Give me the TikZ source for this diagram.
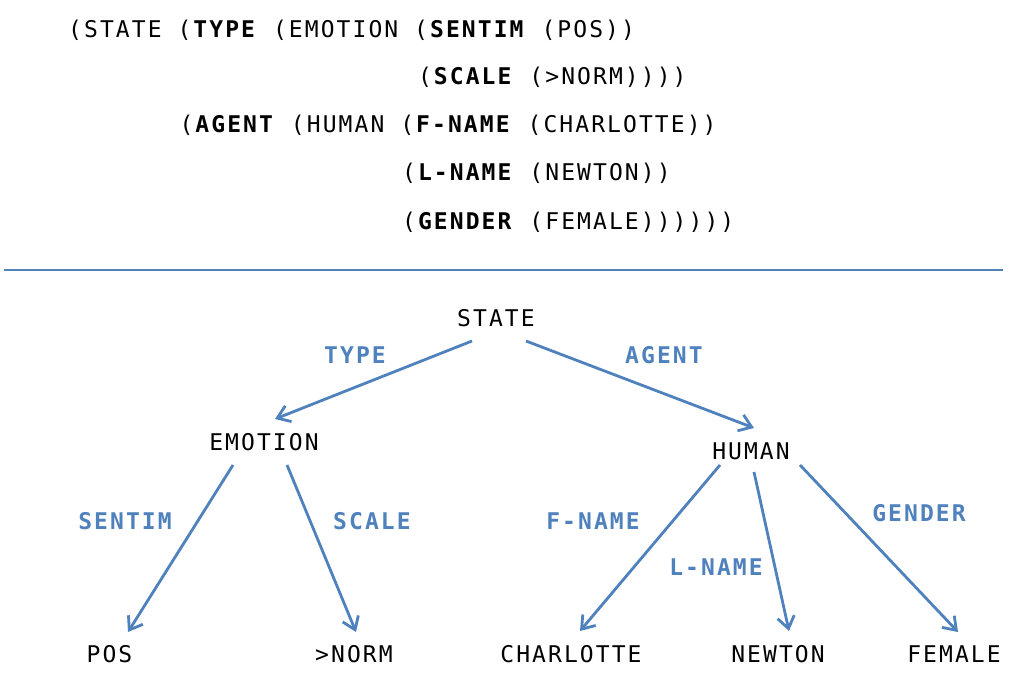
\documentclass[tikz,border=0pt]{standalone}
\usepackage{fontspec}
\setmainfont{DejaVu Sans}
\setmonofont{DejaVu Sans Mono}[LetterSpace=9]
\usetikzlibrary{arrows.meta}
\definecolor{edgecol}{RGB}{79,129,189}

\begin{document}
\begin{tikzpicture}[x=1bp,y=-1bp,>={Straight Barb[length=12bp,width=17bp]},
  code/.style={font=\fontsize{23bp}{27bp}\ttfamily,anchor=base west,inner sep=0pt},
  term/.style={font=\fontsize{23bp}{27bp}\ttfamily,inner sep=0pt},
  rel/.style={font=\fontsize{23bp}{27bp}\ttfamily\bfseries,text=edgecol,inner sep=0pt},
  link/.style={->,draw=edgecol,line width=2.8bp}]
  \useasboundingbox (0,0) rectangle (1013,697);
%%
  % Frame: nested list
  \node[code] (code1) at (68,38)    {(STATE (\textbf{TYPE} (EMOTION (\textbf{SENTIM} (POS))};
  \node[code] (code2) at (417.8,85) {(\textbf{SCALE} (>NORM))))};
  \node[code] (code3) at (179.3,133) {(\textbf{AGENT} (HUMAN (\textbf{F-NAME} (CHARLOTTE))};
  \node[code] (code4) at (401.9,181) {(\textbf{L-NAME} (NEWTON))};
  \node[code] (code5) at (401.9,229) {(\textbf{GENDER} (FEMALE))))))};
  % Rule
  \coordinate (ruleL) at (4,270);
  \coordinate (ruleR) at (1003,270);
  \draw[edgecol,line width=1.2bp] (ruleL) -- (ruleR);
%%
  % Node: STATE
  \node[term] (state) at (496,318) {STATE};
  % Node: EMOTION
  \node[term] (emotion) at (264,442) {EMOTION};
  % Node: HUMAN
  \node[term] (human) at (751,451) {HUMAN};
  % Node: POS
  \node[term] (pos) at (109.5,654) {POS};
  % Node: >NORM
  \node[term] (norm) at (354,654) {>NORM};
  % Node: CHARLOTTE
  \node[term] (charlotte) at (571,654) {CHARLOTTE};
  % Node: NEWTON
  \node[term] (newton) at (778,654) {NEWTON};
  % Node: FEMALE
  \node[term] (female) at (954,654) {FEMALE};
%
  % Edge: STATE -> EMOTION
  \draw[link] ([shift={(-24,23)}]state.center) -- ([shift={(11,-23)}]emotion.center);
  \node[rel] (lType) at (355,355) {TYPE};
  % Edge: STATE -> HUMAN
  \draw[link] ([shift={(30,23)}]state.center) -- ([shift={(3,-23)}]human.center);
  \node[rel] (lAgent) at (664,355) {AGENT};
  % Edge: EMOTION -> POS
  \draw[link] ([shift={(-31,23)}]emotion.center) -- ([shift={(18.5,-22)}]pos.center);
  \node[rel] (lSentim) at (125,521) {SENTIM};
  % Edge: EMOTION -> >NORM
  \draw[link] ([shift={(23,23)}]emotion.center) -- ([shift={(2,-22)}]norm.center);
  \node[rel] (lScale) at (372,521) {SCALE};
  % Edge: HUMAN -> CHARLOTTE
  \draw[link] ([shift={(-31,14)}]human.center) -- ([shift={(9,-23)}]charlotte.center);
  \node[rel] (lFname) at (593,521) {F-NAME};
  % Edge: HUMAN -> NEWTON
  \draw[link] ([shift={(3,21)}]human.center) -- ([shift={(11,-23)}]newton.center);
  \node[rel] (lLname) at (716,567) {L-NAME};
  % Edge: HUMAN -> FEMALE
  \draw[link] ([shift={(49,14)}]human.center) -- ([shift={(4,-22)}]female.center);
  \node[rel] (lGender) at (919,513) {GENDER};
%
\end{tikzpicture}
\end{document}
